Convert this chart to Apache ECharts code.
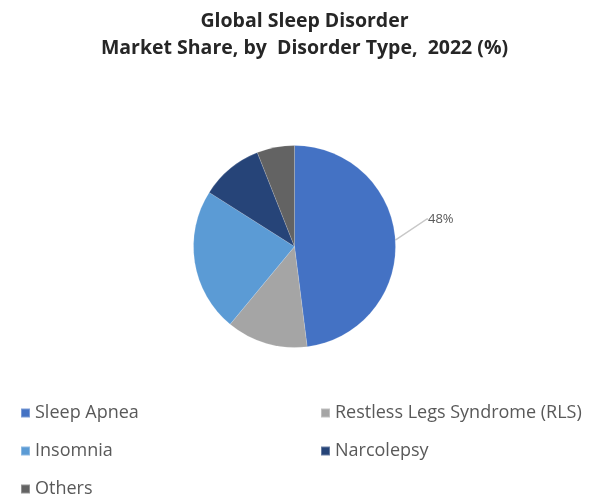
<!DOCTYPE html>
<html><head><meta charset="utf-8">
<script src="https://cdn.jsdelivr.net/npm/echarts@6/dist/echarts.min.js"></script>
<style>html,body{margin:0;padding:0;background:#fff}#c{width:609px;height:495px}</style>
</head><body><div id="c"></div>
<script>
const categories = ["Sleep Apnea", "Restless Legs Syndrome (RLS)", "Insomnia", "Narcolepsy", "Others"];
const shares = [48, 13, 23, 10, 6];
const labelled = ["Sleep Apnea"];
const colors = ["#4472C4", "#A5A5A5", "#5B9BD5", "#264478", "#636363"];

const chart = echarts.init(document.getElementById('c'));
const legendText = {color: '#595959', fontSize: 18, fontFamily: 'Open Sans'};
chart.setOption({
  animation: false,
  color: colors,
  title: {
    text: 'Global Sleep Disorder\nMarket Share, by  Disorder Type,  2022 (%)',
    left: 'center', top: 3,
    textStyle: {fontFamily: 'Open Sans', fontWeight: 'bold', fontSize: 19.5, lineHeight: 27, color: '#262626'}
  },
  legend: [
    {data: [categories[0], categories[2], categories[4]], orient: 'vertical', left: 15, top: 399, height: 100,
     itemWidth: 9, itemHeight: 9, itemGap: 20, icon: 'rect', textStyle: legendText},
    {data: [categories[1], categories[3]], orient: 'vertical', left: 315, top: 399, height: 100,
     itemWidth: 9, itemHeight: 9, itemGap: 20, icon: 'rect', textStyle: legendText}
  ],
  series: [{
    type: 'pie',
    center: [294.5, 246.5],
    radius: 101,
    startAngle: 90,
    clockwise: true,
    itemStyle: {borderColor: 'rgba(255,255,255,0.3)', borderWidth: 0.5},
    label: {show: false},
    labelLine: {show: false},
    labelLayout: function (p) {
      return {x: 428, y: 219, align: 'left', verticalAlign: 'middle'};
    },
    data: categories.map((n, i) => {
      const d = {name: n, value: shares[i]};
      if (labelled.includes(n)) {
        d.label = {show: true, formatter: '{c}%', color: '#595959', fontSize: 13, fontFamily: 'Open Sans'};
        d.labelLine = {show: true, length: 14, length2: 1, lineStyle: {color: '#c8c8c8', width: 1.5}};
      }
      return d;
    })
  }]
});
</script></body></html>
